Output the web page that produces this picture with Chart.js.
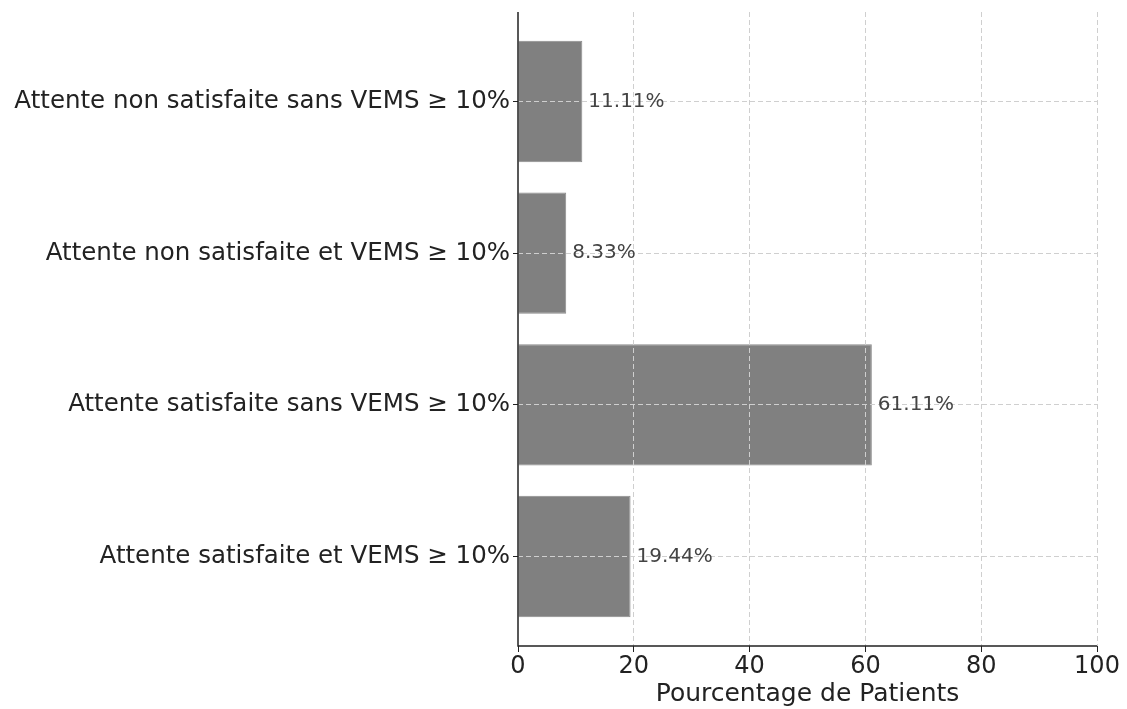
<!DOCTYPE html>
<html>
<head>
<meta charset="utf-8">
<script src="https://cdn.jsdelivr.net/npm/chart.js@4/dist/chart.umd.min.js"></script>
<style>
  html, body { margin: 0; padding: 0; background: #fff; }
  #wrap { width: 1127px; height: 709px; }
</style>
</head>
<body>
<div id="wrap"><canvas id="barChart"></canvas></div>
<script>
const categories = [
  'Attente non satisfaite sans VEMS \u2265 10%',
  'Attente non satisfaite et VEMS \u2265 10%',
  'Attente satisfaite sans VEMS \u2265 10%',
  'Attente satisfaite et VEMS \u2265 10%'
];
const percentages = [11.11, 8.33, 61.11, 19.44];
const xTicks = [0, 20, 40, 60, 80, 100];

const FONT = "'DejaVu Sans', sans-serif";

// grid lines sit above the bars in the original, so draw them again
const gridOnTop = {
  id: 'gridOnTop',
  afterDatasetsDraw(chart) {
    chart.scales.x.drawGrid(chart.chartArea);
    chart.scales.y.drawGrid(chart.chartArea);
    const a = chart.chartArea, c = chart.ctx;
    // solid spines (left + bottom)
    c.save();
    c.setLineDash([]);
    c.strokeStyle = '#222';
    c.lineWidth = 1.5;
    c.beginPath();
    c.moveTo(a.left, a.top);
    c.lineTo(a.left, a.bottom);
    c.lineTo(a.right, a.bottom);
    c.stroke();
    c.restore();
  }
};

const valueLabels = {
  id: 'valueLabels',
  afterDatasetsDraw(chart) {
    const ctx = chart.ctx;
    const meta = chart.getDatasetMeta(0);
    ctx.save();
    ctx.font = '20px ' + FONT;
    ctx.fillStyle = '#444';
    ctx.textAlign = 'left';
    ctx.textBaseline = 'middle';
    meta.data.forEach((bar, i) => {
      ctx.fillText(percentages[i].toFixed(2) + '%', bar.x + 6, bar.y);
    });
    ctx.restore();
  }
};

const ctx = document.getElementById('barChart').getContext('2d');
new Chart(ctx, {
  type: 'bar',
  data: {
    datasets: [{
      data: percentages.map((v, i) => ({ x: v, y: i })),
      backgroundColor: '#808080',
      borderColor: '#8a8a8a',
      borderWidth: 1,
      barPercentage: 0.8,
      categoryPercentage: 1.0
    }]
  },
  options: {
    indexAxis: 'y',
    responsive: true,
    maintainAspectRatio: false,
    animation: false,
    layout: { padding: { top: 12, right: 30, bottom: 0, left: 0 } },
    plugins: {
      legend: { display: false },
      tooltip: { enabled: false }
    },
    scales: {
      x: {
        type: 'linear',
        min: 0,
        max: 100,
        afterBuildTicks: (scale) => { scale.ticks = xTicks.map(v => ({ value: v })); },
        afterFit: (scale) => { scale.height = 63; },
        grid: {
          color: (c) => (c.tick && c.tick.value === 0) ? 'rgba(0,0,0,0)' : '#cfcfcf',
          lineWidth: 1,
          tickColor: '#222',
          tickBorderDash: [],
          tickLength: 6
        },
        border: { display: false, dash: [5, 3] },
        ticks: { color: '#222', font: { family: FONT, size: 24 }, padding: 0, maxRotation: 0 },
        title: {
          display: true,
          text: 'Pourcentage de Patients',
          color: '#222',
          font: { family: FONT, size: 25 },
          padding: { top: 0, bottom: 0 }
        }
      },
      y: {
        type: 'linear',
        reverse: true,
        offset: false,
        min: -0.59,
        max: 3.59,
        afterBuildTicks: (scale) => { scale.ticks = categories.map((c, i) => ({ value: i })); },
        afterFit: (scale) => {
          scale.width = 518;
          scale.paddingTop = 0;
          scale.paddingBottom = 0;
        },
        grid: {
          offset: false,
          color: '#cfcfcf',
          lineWidth: 1,
          tickColor: '#222',
          tickBorderDash: [],
          tickLength: 5
        },
        border: { display: false, dash: [5, 3] },
        ticks: {
          color: '#222',
          font: { family: FONT, size: 24.5 },
          padding: 3,
          callback: (v) => categories[v]
        }
      }
    }
  },
  plugins: [gridOnTop, valueLabels]
});
</script>
</body>
</html>
